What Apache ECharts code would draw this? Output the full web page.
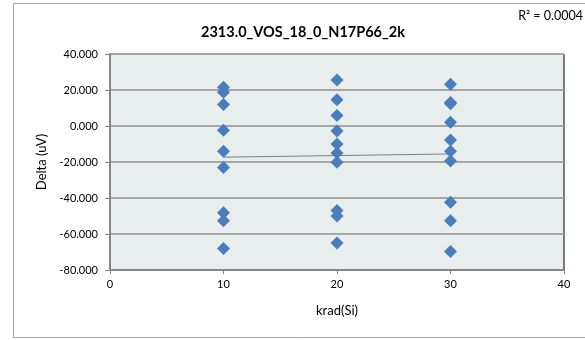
<!DOCTYPE html>
<html><head><meta charset="utf-8">
<script src="https://cdn.jsdelivr.net/npm/echarts@6/dist/echarts.min.js"></script>
<style>html,body{margin:0;padding:0;background:#fff}#c{width:585px;height:340px}</style>
</head><body><div id="c"></div>
<script>
const chartTitle = "2313.0_VOS_18_0_N17P66_2k";
const xName = "krad(Si)";
const yName = "Delta (uV)";
const doseLevels = [10, 20, 30];
const deltaAt10 = [21.5, 18.7, 12.0, -2.4, -14.0, -23.0, -48.2, -52.7, -68.0];
const deltaAt20 = [25.6, 14.6, 5.9, -2.8, -10.0, -15.0, -20.2, -47.0, -50.0, -65.0];
const deltaAt30 = [23.2, 13.0, 12.3, 2.1, -7.8, -14.0, -19.4, -42.4, -52.7, -69.7];
const r2Label = "R² = 0.0004";

const groups = [deltaAt10, deltaAt20, deltaAt30];
const pts = [];
groups.forEach((g, i) => g.forEach(v => pts.push([doseLevels[i], v])));
// linear least squares trendline
const n = pts.length;
let sx=0, sy=0, sxx=0, sxy=0;
pts.forEach(([x,y]) => {sx+=x; sy+=y; sxx+=x*x; sxy+=x*y;});
const slope = (n*sxy - sx*sy)/(n*sxx - sx*sx);
const icpt = (sy - slope*sx)/n;
const xMin = Math.min(...doseLevels), xMax = Math.max(...doseLevels);
const trend = [[xMin, icpt + slope*xMin], [xMax, icpt + slope*xMax]];

const font = "Lato, 'Open Sans', sans-serif";
const chart = echarts.init(document.getElementById('c'), null, {renderer:'canvas'});
chart.setOption({
  animation:false,
  graphic:[
    {type:'rect', shape:{x:13.5, y:3.5, width:600, height:334}, style:{fill:'none', stroke:'#a6a6a6', lineWidth:1}, z:-10},
    {type:'text', right:2, top:9, style:{text:r2Label, font:'12.5px '+font, fill:'#000'}}
  ],
  title:{text:chartTitle, left:298, top:20, textAlign:'center',
    textStyle:{fontFamily:font, fontSize:14.5, fontWeight:'bold', color:'#000'}},
  grid:{left:110, right:21, top:54, bottom:70, show:true, backgroundColor:'#E8EDED', borderColor:'#000', borderWidth:1},
  xAxis:{type:'value', min:0, max:40, interval:10, name:xName, nameLocation:'middle', nameGap:34,
    nameTextStyle:{fontFamily:font, fontSize:13, color:'#000'},
    axisLine:{show:true, onZero:false, lineStyle:{color:'#868686', width:2}},
    axisTick:{show:true, length:4, lineStyle:{color:'#868686'}},
    axisLabel:{fontFamily:font, fontSize:11, color:'#000', margin:9},
    splitLine:{show:false}},
  yAxis:{type:'value', min:-80, max:40, interval:20, name:yName, nameLocation:'middle', nameGap:59,
    nameTextStyle:{fontFamily:font, fontSize:13, color:'#000'},
    axisLine:{show:true, lineStyle:{color:'#868686', width:2}},
    axisTick:{show:true, length:5, lineStyle:{color:'#868686'}},
    axisLabel:{fontFamily:font, fontSize:11, color:'#000', margin:12, formatter:v=>v.toFixed(3)},
    splitLine:{show:true, lineStyle:{color:'#A6A6A6', width:2}}},
  series:[
    {type:'scatter', data:pts, symbol:'diamond', symbolSize:13,
     itemStyle:{color:'#4A7EBB', opacity:1}, z:3},
    {type:'line', data:trend, symbol:'none', lineStyle:{color:'#7f7f7f', width:1}, z:2, silent:true}
  ]
});
</script></body></html>
